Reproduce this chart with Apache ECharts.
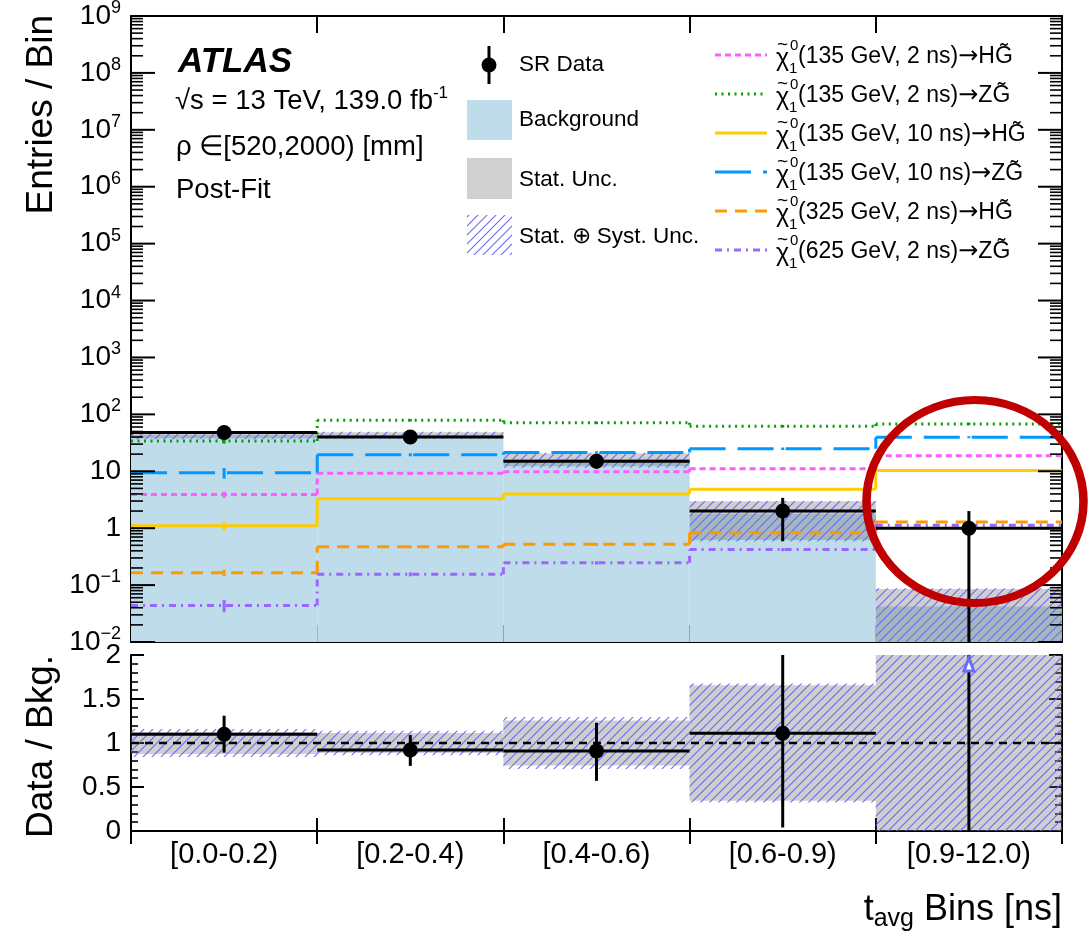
<!DOCTYPE html>
<html><head><meta charset="utf-8">
<script src="https://cdn.jsdelivr.net/npm/echarts@6/dist/echarts.min.js"></script>
<style>html,body{margin:0;padding:0;background:#fff}#c{width:1089px;height:936px}</style>
</head><body><div id="c"></div>
<script>
// ---------------- data ----------------
const categories = ['[0.0-0.2)', '[0.2-0.4)', '[0.4-0.6)', '[0.6-0.9)', '[0.9-12.0)'];
const dataCounts = [48, 40, 15, 2, 1];
const dataErr = [6.9, 6.3, 3.9, 1.41, 1.0];
const bkgYield = [43.5, 43.5, 16.4, 1.8, 0.042];
const bkgStatRel = [0.125, 0.115, 0.255, 0.655, 1.03];
const bkgTotRel = [0.16, 0.14, 0.295, 0.675, 1.1];
const sigHG135_2 = [3.9, 9.2, 9.8, 11.1, 18.7];
const sigZG135_2 = [34, 79, 71, 62, 68];
const sigHG135_10 = [1.1, 3.3, 4.0, 4.85, 10.3];
const sigZG135_10 = [9.4, 19.5, 21.4, 24.9, 39.7];
const sigHG325_2 = [0.164, 0.47, 0.52, 0.83, 1.29];
const sigZG625_2 = [0.044, 0.155, 0.246, 0.42, 1.13];
const sigErrHG135_2 = [0.13, 0.06, 0.06, 0.06, 0.05];
const sigErrZG135_2 = [0.10, 0.05, 0.05, 0.05, 0.05];
const sigErrHG135_10 = [0.17, 0.06, 0.05, 0.05, 0.04];
const sigErrZG135_10 = [0.21, 0.06, 0.05, 0.05, 0.04];
const sigErrHG325_2 = [0.13, 0.06, 0.06, 0.06, 0.05];
const sigErrZG625_2 = [0.24, 0.08, 0.07, 0.06, 0.05];
const signalLabels = ['(135 GeV, 2 ns){arr|\u2192}HG\u0303', '(135 GeV, 2 ns){arr|\u2192}ZG\u0303', '(135 GeV, 10 ns){arr|\u2192}HG\u0303',
                      '(135 GeV, 10 ns){arr|\u2192}ZG\u0303', '(325 GeV, 2 ns){arr|\u2192}HG\u0303', '(625 GeV, 2 ns){arr|\u2192}ZG\u0303'];
const ratioVal = [1.10, 0.92, 0.91, 1.11, 24];
const ratioErrUp = [0.21, 0.17, 0.32, 1.07, 24];
const ratioErrDn = [0.21, 0.18, 0.34, 1.07, 24];
const refLine = [1];
const mainDecades = [-2, -1, 0, 1, 2, 3, 4, 5, 6, 7, 8, 9];

// ---------------- helpers ----------------
const FF = '"Liberation Sans", Arial, Helvetica, sans-serif';
const MAIN_MIN = 0.01, MAIN_MAX = 1e9;
const nb = categories.length;
function clampY(y, cs) { return Math.max(cs.y, Math.min(cs.y + cs.height, y)); }
function yLog(api, i, v, cs) { if (!(v > 0)) return cs.y + cs.height; return clampY(api.coord([i, v])[1], cs); }
function yLin(api, i, v, cs) { return clampY(api.coord([i, v])[1], cs); }
function binEdges(api, i, v, cs) { const w = cs.width / nb; const cx = api.coord([i, v])[0]; return [cx - w / 2, cx, cx + w / 2]; }

function makeHatch(color, s, lw) {
  const c = document.createElement('canvas'); c.width = s; c.height = s;
  const g = c.getContext('2d'); g.strokeStyle = color; g.lineWidth = lw;
  g.beginPath();
  g.moveTo(-1, s + 1); g.lineTo(s + 1, -1);
  g.moveTo(-2, 2); g.lineTo(2, -2);
  g.moveTo(s - 2, s + 2); g.lineTo(s + 2, s - 2);
  g.stroke();
  return { image: c, repeat: 'repeat' };
}
const hatch = makeHatch('#6a6af2', 9, 1.1);
const BKG_COLOR = '#bfdcea';
const STAT_COLOR = 'rgba(110,110,110,0.33)';

function stepSeries(vals, errs, color, dash) {
  return {
    type: 'custom', xAxisIndex: 0, yAxisIndex: 0, z: 5, silent: true,
    data: vals.map((v, i) => [i, v]),
    renderItem(params, api) {
      const i = params.dataIndex, cs = params.coordSys, v = api.value(1);
      const [x0, cx, x1] = binEdges(api, i, v, cs);
      const y = yLog(api, i, v, cs);
      const st = { stroke: color, lineWidth: 3, lineDash: dash, fill: 'none' };
      const ch = [{ type: 'line', shape: { x1: x0, y1: y, x2: x1, y2: y }, style: st }];
      if (i > 0) {
        const yp = yLog(api, i - 1, vals[i - 1], cs);
        ch.push({ type: 'line', shape: { x1: x0, y1: yp, x2: x0, y2: y }, style: st });
      }
      const ya = yLog(api, i, v * (1 + errs[i]), cs), yb = yLog(api, i, v * (1 - errs[i]), cs);
      ch.push({ type: 'line', shape: { x1: cx, y1: ya, x2: cx, y2: yb }, style: { stroke: color, lineWidth: 3 } });
      return { type: 'group', children: ch };
    }
  };
}

const supRich = { sup: { fontSize: 18, fontFamily: FF, fill: '#000', padding: [0, 0, 16, 0] } };

// ---------------- series ----------------
const series = [];
series.push({
  type: 'custom', xAxisIndex: 0, yAxisIndex: 0, z: 1, silent: true,
  data: bkgYield.map((v, i) => [i, v]),
  renderItem(params, api) {
    const i = params.dataIndex, cs = params.coordSys, v = api.value(1);
    const [x0, , x1] = binEdges(api, i, v, cs);
    const yt = yLog(api, i, v, cs), yb = cs.y + cs.height;
    return { type: 'rect', shape: { x: x0, y: yt, width: x1 - x0, height: yb - yt }, style: { fill: BKG_COLOR } };
  }
});
series.push({
  type: 'custom', xAxisIndex: 0, yAxisIndex: 0, z: 2, silent: true,
  data: bkgYield.map((v, i) => [i, v]),
  renderItem(params, api) {
    const i = params.dataIndex, cs = params.coordSys, v = api.value(1);
    const [x0, , x1] = binEdges(api, i, v, cs);
    const yt = yLog(api, i, v * (1 + bkgStatRel[i]), cs), yb = yLog(api, i, v * (1 - bkgStatRel[i]), cs);
    return { type: 'rect', shape: { x: x0, y: yt, width: x1 - x0, height: yb - yt }, style: { fill: STAT_COLOR } };
  }
});
series.push({
  type: 'custom', xAxisIndex: 0, yAxisIndex: 0, z: 3, silent: true,
  data: bkgYield.map((v, i) => [i, v]),
  renderItem(params, api) {
    const i = params.dataIndex, cs = params.coordSys, v = api.value(1);
    const [x0, , x1] = binEdges(api, i, v, cs);
    const yt = yLog(api, i, v * (1 + bkgTotRel[i]), cs), yb = yLog(api, i, v * (1 - bkgTotRel[i]), cs);
    return { type: 'rect', shape: { x: x0, y: yt, width: x1 - x0, height: yb - yt }, style: { fill: hatch } };
  }
});
const sigDefs = [
  [sigHG135_2, sigErrHG135_2, '#ff5cff', [6, 4]],
  [sigZG135_2, sigErrZG135_2, '#00a000', [2, 4.5]],
  [sigHG135_10, sigErrHG135_10, '#ffcc00', null],
  [sigZG135_10, sigErrZG135_10, '#0099ff', [36, 12]],
  [sigHG325_2, sigErrHG325_2, '#ff9900', [12, 8]],
  [sigZG625_2, sigErrZG625_2, '#9966ff', [7, 5, 2, 5]]
];
sigDefs.forEach(d => series.push(stepSeries(d[0], d[1], d[2], d[3])));
series.push({
  type: 'custom', xAxisIndex: 0, yAxisIndex: 0, z: 8, silent: true,
  data: dataCounts.map((v, i) => [i, v]),
  renderItem(params, api) {
    const i = params.dataIndex, cs = params.coordSys, v = api.value(1);
    const [x0, cx, x1] = binEdges(api, i, v, cs);
    const y = yLog(api, i, v, cs);
    const yu = yLog(api, i, v + dataErr[i], cs), yd = yLog(api, i, v - dataErr[i], cs);
    return { type: 'group', children: [
      { type: 'line', shape: { x1: x0, y1: y, x2: x1, y2: y }, style: { stroke: '#000', lineWidth: 3 } },
      { type: 'line', shape: { x1: cx, y1: yu, x2: cx, y2: yd }, style: { stroke: '#000', lineWidth: 3 } },
      { type: 'circle', shape: { cx: cx, cy: y, r: 7.5 }, style: { fill: '#000' } }
    ]};
  }
});
const mainTickVals = [];
mainDecades.forEach(e => {
  mainTickVals.push([0, Math.pow(10, e), 1]);
  if (e < 9) for (let m = 2; m <= 9; m++) mainTickVals.push([0, m * Math.pow(10, e), 0]);
});
series.push({
  type: 'custom', xAxisIndex: 0, yAxisIndex: 0, z: 20, silent: true, clip: false,
  data: mainTickVals,
  renderItem(params, api) {
    const cs = params.coordSys, v = api.value(1), major = api.value(2) === 1;
    const y = api.coord([0, v])[1];
    const len = major ? 24 : 12, lw = major ? 2 : 1.6;
    const ch = [
      { type: 'line', shape: { x1: cs.x, y1: y, x2: cs.x + len, y2: y }, style: { stroke: '#000', lineWidth: lw } },
      { type: 'line', shape: { x1: cs.x + cs.width - len, y1: y, x2: cs.x + cs.width, y2: y }, style: { stroke: '#000', lineWidth: lw } }
    ];
    if (major) {
      const e = Math.round(Math.log10(v));
      const txt = e === 0 ? '1' : e === 1 ? '10' : '10{sup|' + (e < 0 ? '\u2212' + (-e) : e) + '}';
      ch.push({ type: 'text', x: cs.x - 10, y: y, style: { text: txt, rich: supRich, fontSize: 28, fontFamily: FF, fill: '#000', align: 'right', verticalAlign: 'middle' } });
    }
    return { type: 'group', children: ch };
  }
});
series.push({
  type: 'custom', xAxisIndex: 2, yAxisIndex: 2, z: 2, silent: true,
  data: bkgStatRel.map((v, i) => [i, v]),
  renderItem(params, api) {
    const i = params.dataIndex, cs = params.coordSys, s = api.value(1);
    const [x0, , x1] = binEdges(api, i, 1, cs);
    const yt = yLin(api, i, 1 + s, cs), yb = yLin(api, i, 1 - s, cs);
    return { type: 'rect', shape: { x: x0, y: yt, width: x1 - x0, height: yb - yt }, style: { fill: STAT_COLOR } };
  }
});
series.push({
  type: 'custom', xAxisIndex: 2, yAxisIndex: 2, z: 3, silent: true,
  data: bkgTotRel.map((v, i) => [i, v]),
  renderItem(params, api) {
    const i = params.dataIndex, cs = params.coordSys, s = api.value(1);
    const [x0, , x1] = binEdges(api, i, 1, cs);
    const yt = yLin(api, i, 1 + s, cs), yb = yLin(api, i, 1 - s, cs);
    return { type: 'rect', shape: { x: x0, y: yt, width: x1 - x0, height: yb - yt }, style: { fill: hatch } };
  }
});
series.push({
  type: 'custom', xAxisIndex: 2, yAxisIndex: 2, z: 6, silent: true,
  data: refLine.map(v => [0, v]),
  renderItem(params, api) {
    const cs = params.coordSys; const y = api.coord([0, api.value(1)])[1];
    return { type: 'line', shape: { x1: cs.x, y1: y, x2: cs.x + cs.width, y2: y }, style: { stroke: '#000', lineWidth: 2.5, lineDash: [8, 6] } };
  }
});
series.push({
  type: 'custom', xAxisIndex: 2, yAxisIndex: 2, z: 8, silent: true,
  data: ratioVal.map((v, i) => [i, v]),
  renderItem(params, api) {
    const i = params.dataIndex, cs = params.coordSys, v = api.value(1);
    const [x0, cx, x1] = binEdges(api, i, 1, cs);
    const yu = yLin(api, i, v + ratioErrUp[i], cs), yd = yLin(api, i, v - ratioErrDn[i], cs);
    const ch = [{ type: 'line', shape: { x1: cx, y1: yu, x2: cx, y2: yd }, style: { stroke: '#000', lineWidth: 3 } }];
    if (v <= 2) {
      const y = yLin(api, i, v, cs);
      ch.push({ type: 'line', shape: { x1: x0, y1: y, x2: x1, y2: y }, style: { stroke: '#000', lineWidth: 3 } });
      ch.push({ type: 'circle', shape: { cx: cx, cy: y, r: 7.5 }, style: { fill: '#000' } });
    } else {
      const t = cs.y;
      ch.push({ type: 'polygon', shape: { points: [[cx, t + 3], [cx - 5, t + 16], [cx + 5, t + 16]] }, style: { fill: '#fff', stroke: '#6b6bff', lineWidth: 3 } });
    }
    return { type: 'group', children: ch };
  }
});

// ---------------- axes ----------------
const axLine = { show: true, lineStyle: { color: '#000', width: 2 } };
function catAxis(grid, pos, tickLen, labels) {
  return {
    type: 'category', gridIndex: grid, position: pos, data: categories, boundaryGap: true,
    axisLine: axLine, splitLine: { show: false },
    axisTick: { show: true, inside: true, length: tickLen, interval: 0, lineStyle: { color: '#000', width: 2 } },
    axisLabel: labels ? { show: true, interval: 0, fontSize: 29, fontFamily: FF, color: '#000', margin: 9 } : { show: false }
  };
}
function ratioAxis(pos, labels) {
  return {
    type: 'value', gridIndex: 1, position: pos, min: 0, max: 2, interval: 0.5,
    axisLine: axLine, splitLine: { show: false },
    axisTick: { show: true, inside: true, length: 13, lineStyle: { color: '#000', width: 2 } },
    minorTick: { show: true, splitNumber: 5, length: 7, lineStyle: { color: '#000', width: 1.6 } },
    axisLabel: labels ? { show: true, fontSize: 28, fontFamily: FF, color: '#000', margin: 10 } : { show: false }
  };
}
function logAxis(pos) {
  return {
    type: 'log', logBase: 10, gridIndex: 0, position: pos, min: MAIN_MIN, max: MAIN_MAX,
    axisLine: axLine, splitLine: { show: false }, axisTick: { show: false }, axisLabel: { show: false }, minorTick: { show: false }
  };
}

const T = (x, y, text, size, extra) => Object.assign({ type: 'text', x, y, z: 50,
  style: Object.assign({ text, fontSize: size, fontFamily: FF, fill: '#000', verticalAlign: 'middle' }, extra || {}) });

const graphics = [];
let g;
g = T(42, 15, 'Entries / Bin', 37, { align: 'right' }); g.rotation = Math.PI / 2; graphics.push(g);
g = T(42, 655, 'Data / Bkg.', 37, { align: 'right' }); g.rotation = Math.PI / 2; graphics.push(g);
graphics.push(T(1062, 910, 't{sub|avg} Bins [ns]', 36, { align: 'right', rich: { sub: { fontSize: 25, fontFamily: FF, fill: '#000', padding: [18, 0, 0, 0] } } }));
graphics.push(T(178, 62, 'ATLAS', 35, { fontWeight: 'bold', fontStyle: 'italic' }));
graphics.push(T(175, 101, '\u221As = 13 TeV, 139.0 fb{sup|-1}', 27.5, { rich: { sup: { fontSize: 17, fontFamily: FF, fill: '#000', padding: [0, 0, 16, 0] } } }));
graphics.push(T(176, 147, '\u03C1 \u2208[520,2000) [mm]', 27.5));
graphics.push(T(176, 190, 'Post-Fit', 27.5));
graphics.push({ type: 'line', z: 50, shape: { x1: 489, y1: 46, x2: 489, y2: 84 }, style: { stroke: '#000', lineWidth: 3 } });
graphics.push({ type: 'circle', z: 50, shape: { cx: 489, cy: 65, r: 7.5 }, style: { fill: '#000' } });
graphics.push(T(519, 65, 'SR Data', 22.5));
graphics.push({ type: 'rect', z: 50, shape: { x: 467, y: 100, width: 45, height: 40 }, style: { fill: BKG_COLOR } });
graphics.push(T(519, 120, 'Background', 22.5));
graphics.push({ type: 'rect', z: 50, shape: { x: 467, y: 158, width: 45, height: 41 }, style: { fill: '#d0d0d0' } });
graphics.push(T(519, 180, 'Stat. Unc.', 22.5));
graphics.push({ type: 'rect', z: 50, shape: { x: 467, y: 215, width: 45, height: 40 }, style: { fill: hatch } });
graphics.push(T(519, 237, 'Stat. \u2295 Syst. Unc.', 22.5));
const rowY = [57, 96, 135, 174, 213, 252];
const arrRich = { arr: { fontFamily: '"DejaVu Sans", sans-serif', fontSize: 24, fill: '#000' } };
sigDefs.forEach((d, k) => {
  const y = rowY[k];
  graphics.push({ type: 'line', z: 50, shape: { x1: 715, y1: y - 2, x2: 767, y2: y - 2 }, style: { stroke: d[2], lineWidth: 3, lineDash: d[3] } });
  graphics.push(T(776, y + 2, '\u03C7', 25));
  graphics.push(T(777, y - 12, '~', 19));
  graphics.push(T(790, y - 11, '0', 15));
  graphics.push(T(789, y + 12, '1', 15));
  graphics.push(T(798, y, signalLabels[k], 23, { rich: arrRich }));
});
graphics.push({ type: 'circle', z: 100, x: 975, y: 501.5, scaleX: 108.5 / 101.5, shape: { cx: 0, cy: 0, r: 101.5 },
  style: { fill: 'none', stroke: '#c00000', lineWidth: 8, strokeNoScale: true } });

const chart = echarts.init(document.getElementById('c'), null, { renderer: 'canvas' });
chart.setOption({
  animation: false,
  backgroundColor: '#fff',
  textStyle: { fontFamily: FF },
  grid: [
    { left: 131, top: 16, width: 931, height: 626, containLabel: false },
    { left: 131, top: 655, width: 931, height: 176, containLabel: false }
  ],
  xAxis: [catAxis(0, 'bottom', 17, false), catAxis(0, 'top', 17, false), catAxis(1, 'bottom', 13, true), catAxis(1, 'top', 13, false)],
  yAxis: [logAxis('left'), logAxis('right'), ratioAxis('left', true), ratioAxis('right', false)],
  series: series,
  graphic: { elements: graphics }
});
</script>
</body></html>
